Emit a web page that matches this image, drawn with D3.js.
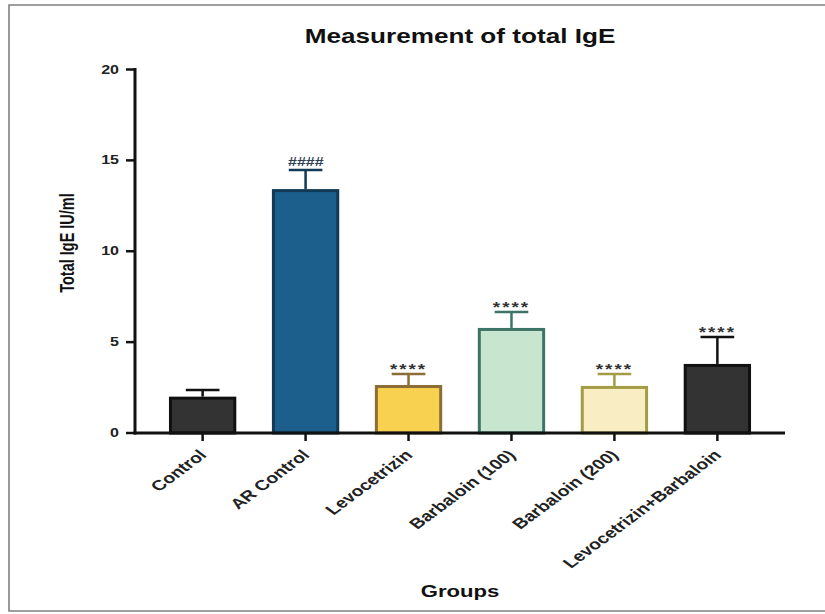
<!DOCTYPE html>
<html>
<head>
<meta charset="utf-8">
<script src="https://cdn.jsdelivr.net/npm/d3@7"></script>
<style>
  html, body { margin: 0; padding: 0; background: #fff; }
  svg { display: block; }
  text { font-family: "Liberation Sans", Arial, Helvetica, sans-serif; }
</style>
</head>
<body>
<svg id="chart" width="825" height="614"></svg>
<script>
// Total IgE (IU/ml) by treatment group: mean and SD
const groups = ["Control", "AR Control", "Levocetrizin", "Barbaloin (100)", "Barbaloin (200)", "Levocetrizin+Barbaloin"];
const means  = [2.0, 13.42, 2.64, 5.78, 2.59, 3.8];
const sds    = [0.37, 1.05, 0.6, 0.88, 0.65, 1.48];
const marks  = ["", "####", "****", "****", "****", "****"];
const fills   = ["#333333", "#1d5f8c", "#f9d150", "#c8e5d0", "#f8edc3", "#333333"];
const strokes = ["#111111", "#123a56", "#8c6d35", "#3e7468", "#a29c45", "#111111"];
const yTicks = [0, 5, 10, 15, 20];

// text in this figure is drawn horizontally widened
const SX = 1.34;

const svg = d3.select("#chart");

// frame
svg.append("path")
  .attr("d", "M825,5 H9 V611 H825")
  .attr("fill", "none")
  .attr("stroke", "#808080")
  .attr("stroke-width", 1.6);

const x0 = 135, x1 = 785, yTop = 69.5, yBase = 433;

const x = d3.scaleBand()
  .domain(groups)
  .range([x0, x1])
  .paddingInner(0.346)
  .paddingOuter(0.33);

const y = d3.scaleLinear().domain([0, 20]).range([yBase, yTop]);

// title
svg.append("text")
  .attr("transform", `translate(${(x0 + x1) / 2},43) scale(${SX},1)`)
  .attr("text-anchor", "middle")
  .attr("font-size", 19.5)
  .attr("font-weight", "bold")
  .attr("fill", "#111")
  .text("Measurement of total IgE");

// bars
const bw = x.bandwidth();
svg.append("g").selectAll("rect")
  .data(groups)
  .join("rect")
  .attr("x", d => x(d) + 1.5)
  .attr("y", (d, i) => y(means[i]) + 1.5)
  .attr("width", bw - 3)
  .attr("height", (d, i) => y(0) - y(means[i]) - 1.5)
  .attr("fill", (d, i) => fills[i])
  .attr("stroke", (d, i) => strokes[i])
  .attr("stroke-width", 3);

// upper error bars with significance marks
const eb = svg.append("g");
groups.forEach((g, i) => {
  const cx = x(g) + bw / 2;
  const top = y(means[i] + sds[i]);
  eb.append("line")
    .attr("x1", cx).attr("x2", cx)
    .attr("y1", y(means[i])).attr("y2", top)
    .attr("stroke", strokes[i]).attr("stroke-width", 2.5);
  eb.append("line")
    .attr("x1", cx - bw * 0.25).attr("x2", cx + bw * 0.25)
    .attr("y1", top).attr("y2", top)
    .attr("stroke", strokes[i]).attr("stroke-width", 2.5);
  if (marks[i]) {
    const hash = marks[i] === "####";
    eb.append("text")
      .attr("transform", `translate(${cx},${top + (hash ? -4 : 0)}) scale(${SX},1)`)
      .attr("text-anchor", "middle")
      .attr("font-size", hash ? 12 : 14)
      .attr("letter-spacing", hash ? 0 : 1.5)
      .attr("font-weight", "bold")
      .attr("font-style", hash ? "italic" : "normal")
      .attr("fill", hash ? "#2f3f55" : "#333")
      .text(marks[i]);
  }
});

// y axis
const yAxis = svg.append("g");
yAxis.append("line")
  .attr("x1", x0).attr("x2", x0)
  .attr("y1", yTop - 1.5).attr("y2", yBase + 1.5)
  .attr("stroke", "#111").attr("stroke-width", 3);
yAxis.selectAll(".tk")
  .data(yTicks)
  .join("line")
  .attr("x1", x0 - 9).attr("x2", x0)
  .attr("y1", d => y(d)).attr("y2", d => y(d))
  .attr("stroke", "#111").attr("stroke-width", 2.5);
yAxis.selectAll(".tl")
  .data(yTicks)
  .join("text")
  .attr("transform", d => `translate(${x0 - 16},${y(d) + 4}) scale(${SX},1)`)
  .attr("text-anchor", "end")
  .attr("font-size", 12)
  .attr("font-weight", "bold")
  .attr("fill", "#222")
  .text(d => d);

// y axis title
svg.append("text")
  .attr("transform", `translate(74,243) scale(${SX},1) rotate(-90)`)
  .attr("text-anchor", "middle")
  .attr("font-size", 14.5)
  .attr("font-weight", "bold")
  .attr("fill", "#111")
  .text("Total IgE IU/ml");

// x axis
const xAxis = svg.append("g");
xAxis.append("line")
  .attr("x1", x0 - 1.5).attr("x2", x1)
  .attr("y1", yBase).attr("y2", yBase)
  .attr("stroke", "#111").attr("stroke-width", 3);
xAxis.selectAll(".tk")
  .data(groups)
  .join("line")
  .attr("x1", d => x(d) + bw / 2).attr("x2", d => x(d) + bw / 2)
  .attr("y1", yBase).attr("y2", yBase + 8)
  .attr("stroke", "#111").attr("stroke-width", 2.5);
xAxis.selectAll(".tl")
  .data(groups)
  .join("text")
  .attr("transform", d => `translate(${x(d) + bw / 2 + 5},${yBase + 23}) scale(${SX},1) rotate(-45)`)
  .attr("text-anchor", "end")
  .attr("font-size", 14.5)
  .attr("font-weight", "bold")
  .attr("fill", "#222")
  .text(d => d);

// x axis title
svg.append("text")
  .attr("transform", `translate(${(x0 + x1) / 2},597) scale(${SX},1)`)
  .attr("text-anchor", "middle")
  .attr("font-size", 16.5)
  .attr("font-weight", "bold")
  .attr("fill", "#111")
  .text("Groups");
</script>
</body>
</html>
